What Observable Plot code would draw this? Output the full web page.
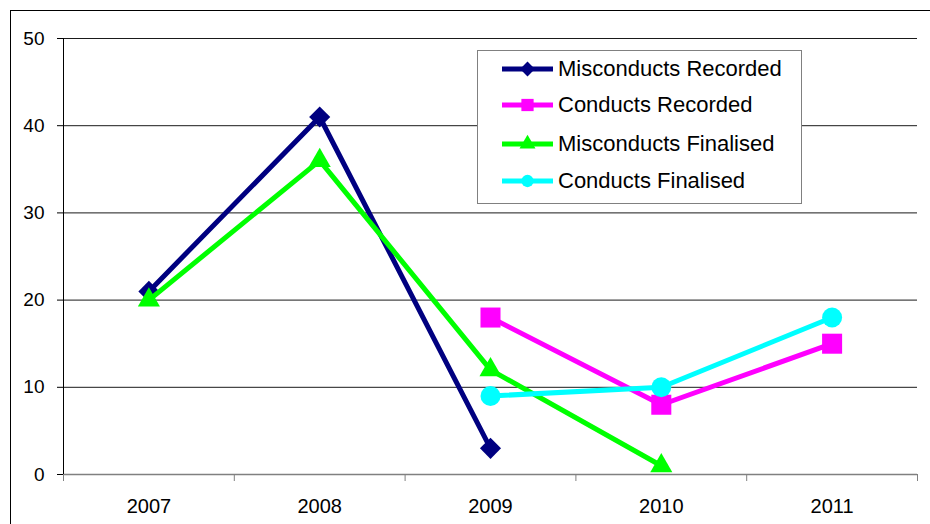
<!DOCTYPE html>
<html>
<head>
<meta charset="utf-8">
<script src="https://cdn.jsdelivr.net/npm/d3@7"></script>
<script src="https://cdn.jsdelivr.net/npm/@observablehq/plot@0.6"></script>
<style>
  body { margin: 0; background: #fff; }
  #wrap { position: relative; width: 930px; height: 524px; overflow: hidden; font-family: "Liberation Sans", Arial, sans-serif; }
  #frame { position: absolute; left: 10px; top: 10px; width: 960px; height: 560px; border: 1px solid #000; box-sizing: border-box; }
  #chart { position: absolute; left: 0; top: 0; }
  #legend { position: absolute; left: 477px; top: 50px; width: 325px; height: 154px; box-sizing: border-box; border: 1.5px solid #808080; background: #fff; }
  .row { position: absolute; left: 0; height: 30px; display: flex; align-items: center; font-size: 22px; color: #000; white-space: nowrap; }
  .row svg { margin-left: 24px; margin-right: 5px; }
</style>
</head>
<body>
<div id="wrap">
  <div id="frame"></div>
  <div id="chart"></div>
  <div id="legend"></div>
</div>
<script>
const years = [2007, 2008, 2009, 2010, 2011];
const misconductsRecorded = [21, 41, 3, null, null];
const conductsRecorded = [null, null, 18, 8, 15];
const misconductsFinalised = [20, 36, 12, 1, null];
const conductsFinalised = [null, null, 9, 10, 18];
const yTicks = [0, 10, 20, 30, 40, 50];

const seriesNames = ["Misconducts Recorded", "Conducts Recorded", "Misconducts Finalised", "Conducts Finalised"];
const seriesColors = ["#000080", "#FF00FF", "#00FF00", "#00FFFF"];
const seriesSymbols = ["diamond2", "square", "triangle", "circle"];
const seriesR = [9.5, 11.3, 8.2, 10];
const seriesValues = [misconductsRecorded, conductsRecorded, misconductsFinalised, conductsFinalised];

const rows = vals => years.map((y, i) => ({year: y, value: vals[i]})).filter(d => d.value != null);
const x0 = years[0] - 0.5, x1 = years[years.length - 1] + 0.5;
const bounds = d3.range(x0, x1 + 0.01, 1);

const seriesMarks = seriesValues.flatMap((vals, i) => [
  Plot.line(rows(vals), {x: "year", y: "value", stroke: seriesColors[i], strokeWidth: 5}),
  Plot.dot(rows(vals), {x: "year", y: "value", symbol: seriesSymbols[i], r: seriesR[i], fill: seriesColors[i], stroke: "none"})
]);

const chart = Plot.plot({
  width: 930, height: 524,
  marginLeft: 63, marginRight: 13, marginTop: 38, marginBottom: 50,
  style: {fontFamily: "'Liberation Sans', Arial, sans-serif", background: "transparent", color: "#000"},
  x: {domain: [x0, x1]},
  y: {domain: [0, 50]},
  marks: [
    Plot.ruleY(yTicks.filter(d => d > 0), {stroke: "#1a1a1a", strokeWidth: 1}),
    Plot.axisY({ticks: yTicks, tickSize: 6, tickPadding: 13, fontSize: 19, label: null, tickFormat: d => String(d)}),
    Plot.axisX({ticks: bounds, tickSize: 7, tickFormat: () => "", stroke: "#808080", label: null}),
    Plot.axisX({ticks: years, tickSize: 0, tickPadding: 24, fontSize: 20, tickFormat: d => String(d), label: null}),
    Plot.ruleY([0], {stroke: "#808080", strokeWidth: 1.5}),
    Plot.ruleX([x0], {y1: 0, y2: 50, stroke: "#000", strokeWidth: 1}),
    ...seriesMarks
  ]
});
document.getElementById("chart").appendChild(chart);

// legend
const legend = document.getElementById("legend");
const rowTops = [3, 39, 78, 115];
seriesNames.forEach((name, i) => {
  const row = document.createElement("div");
  row.className = "row";
  row.style.top = rowTops[i] + "px";
  const sym = d3.symbol(
    {diamond2: d3.symbolDiamond2, square: d3.symbolSquare, triangle: d3.symbolTriangle, circle: d3.symbolCircle}[seriesSymbols[i]],
    [140, 150, 110, 120][i]
  )();
  row.innerHTML = `<svg width="51" height="24" viewBox="-25.5 -12 51 24"><line x1="-25.5" x2="25.5" y1="0" y2="0" stroke="${seriesColors[i]}" stroke-width="5"/><path d="${sym}" fill="${seriesColors[i]}"/></svg><span>${name}</span>`;
  legend.appendChild(row);
});
</script>
</body>
</html>
